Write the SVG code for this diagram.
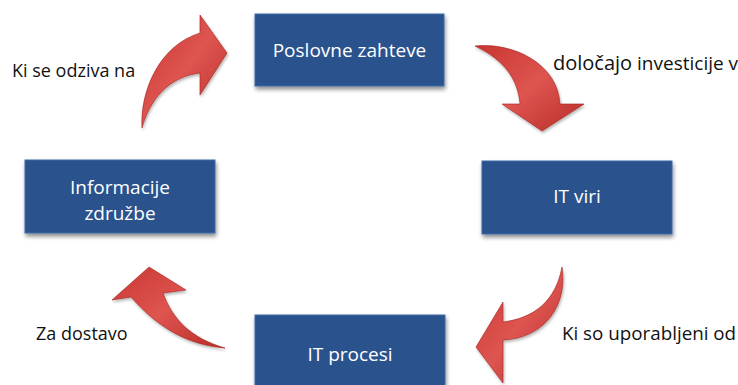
<svg xmlns="http://www.w3.org/2000/svg" width="738" height="385" viewBox="0 0 738 385">
  <defs>
    <style>
      .box { fill: #29538e; stroke: #3d6aa6; stroke-width: 1; filter: url(#shadow); }
      .boxtxt { font-family: "Open Sans", "Noto Sans", sans-serif; font-size: 19px; fill: #ffffff; text-anchor: middle; }
      .lbl { font-family: "Open Sans", "Noto Sans", sans-serif; font-size: 18px; fill: #111111; }
      .arrow { stroke: #a3221e; stroke-width: 0.6; stroke-linejoin: round; filter: url(#ashadow); }
    </style>
    <filter id="shadow" x="-10%" y="-10%" width="125%" height="135%">
      <feGaussianBlur in="SourceAlpha" stdDeviation="2"/>
      <feOffset dx="1" dy="3" result="b"/>
      <feComponentTransfer><feFuncA type="linear" slope="0.45"/></feComponentTransfer>
      <feMerge><feMergeNode/><feMergeNode in="SourceGraphic"/></feMerge>
    </filter>
    <filter id="ashadow" x="-20%" y="-20%" width="140%" height="140%">
      <feGaussianBlur in="SourceAlpha" stdDeviation="1.5"/>
      <feOffset dx="0.5" dy="1.5"/>
      <feComponentTransfer><feFuncA type="linear" slope="0.3"/></feComponentTransfer>
      <feMerge><feMergeNode/><feMergeNode in="SourceGraphic"/></feMerge>
    </filter>
    <linearGradient id="redA" x1="0" y1="0" x2="1" y2="1">
      <stop offset="0" stop-color="#c93632"/>
      <stop offset="0.5" stop-color="#de5550"/>
      <stop offset="1" stop-color="#b82b27"/>
    </linearGradient>
  </defs>

  <!-- connectors: curved block arrows -->
  <g id="connectors" fill="url(#redA)">
    <path class="arrow" d="M142,128 C140,90 160,45 200,33 L200,15 L227,53 L200,95 L200,73 C175,76 152,92 142,128 Z"/>
    <path class="arrow" d="M475,46 C515,42 558,65 560,104 L584,104 L542,131 L502,104 L520,104 C518,80 505,60 475,46 Z"/>
    <path class="arrow" d="M562,267 C568,305 545,338 503,340 L503,383 L476,347 L503,302 L503,322 C535,318 556,300 562,267 Z"/>
    <path class="arrow" d="M225,348 C190,345 160,330 131,297 L112,300 L149,267 L186,290 L163,293 C172,318 190,338 225,348 Z"/>
  </g>

  <g id="node-poslovne">
    <rect class="box" x="255" y="14" width="189" height="72"/>
    <text class="boxtxt" x="349.5" y="57">Poslovne zahteve</text>
  </g>
  <g id="node-itviri">
    <rect class="box" x="482" y="161" width="190" height="73"/>
    <text class="boxtxt" x="577" y="203">IT viri</text>
  </g>
  <g id="node-itprocesi">
    <rect class="box" x="255" y="315" width="190" height="80"/>
    <text class="boxtxt" x="350" y="361">IT procesi</text>
  </g>
  <g id="node-informacije">
    <rect class="box" x="25" y="160" width="190" height="73"/>
    <text class="boxtxt" x="120" y="194">Informacije</text>
    <text class="boxtxt" x="120" y="220">združbe</text>
  </g>

  <g id="labels">
    <text class="lbl" x="12" y="77">Ki se odziva na</text>
    <text class="lbl" x="553" y="70" style="font-size:19px"><tspan style="font-size:20px">določajo</tspan> investicije v</text>
    <text class="lbl" x="562" y="340" style="font-size:18.8px">Ki so uporabljeni od</text>
    <text class="lbl" x="36" y="340">Za dostavo</text>
  </g>
</svg>
